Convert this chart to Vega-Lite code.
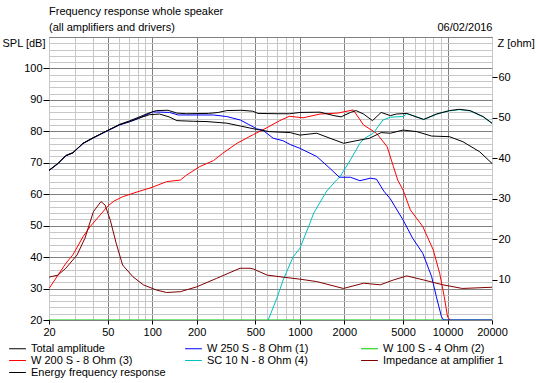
{
"$schema": "https://vega.github.io/schema/vega-lite/v6.json",
"width": 443,
"height": 283,
"autosize": {"type": "none"},
"padding": {"left": 49, "top": 37, "right": 47, "bottom": 63},
"background": "#ffffff",
"title": {"text": "Frequency response whole speaker", "subtitle": "(all amplifiers and drivers)", "anchor": "start", "frame": "group", "font": "Liberation Sans", "fontSize": 11, "fontWeight": "normal", "color": "#000000", "subtitleFont": "Liberation Sans", "subtitleFontSize": 11, "subtitleColor": "#000000", "offset": -12, "subtitlePadding": 5},
"datasets": {
"total": [
{"freq":20,"value":67.6},{"freq":23,"value":69.8},{"freq":26,"value":72.3},{"freq":29,"value":73.2},{"freq":34,"value":76.2},{"freq":40,"value":78.0},{"freq":50,"value":80.3},{"freq":60,"value":82.2},{"freq":70,"value":83.3},{"freq":80,"value":84.4},{"freq":96,"value":85.9},{"freq":107,"value":86.6},{"freq":128,"value":86.7},{"freq":147,"value":85.8},{"freq":170,"value":85.6},{"freq":240,"value":85.7},{"freq":280,"value":86.0},{"freq":320,"value":86.6},{"freq":400,"value":86.7},{"freq":480,"value":86.4},{"freq":520,"value":85.7},{"freq":700,"value":85.6},{"freq":850,"value":85.6},{"freq":1000,"value":86.0},{"freq":1370,"value":86.1},{"freq":1700,"value":85.0},{"freq":1900,"value":84.6},{"freq":2200,"value":86.0},{"freq":2400,"value":86.6},{"freq":2700,"value":85.5},{"freq":3100,"value":83.4},{"freq":3550,"value":86.0},{"freq":4100,"value":85.0},{"freq":4500,"value":85.5},{"freq":5300,"value":85.7},{"freq":6200,"value":84.5},{"freq":6900,"value":83.8},{"freq":8400,"value":85.5},{"freq":10300,"value":86.6},{"freq":12000,"value":87.0},{"freq":14200,"value":86.6},{"freq":17400,"value":84.7},{"freq":20000,"value":82.6}
],
"energy": [
{"freq":20,"value":67.6},{"freq":23,"value":69.8},{"freq":26,"value":72.3},{"freq":29,"value":73.2},{"freq":34,"value":76.2},{"freq":40,"value":78.0},{"freq":50,"value":80.3},{"freq":60,"value":82.1},{"freq":70,"value":83.1},{"freq":80,"value":84.1},{"freq":96,"value":85.3},{"freq":112,"value":85.5},{"freq":130,"value":84.6},{"freq":147,"value":83.4},{"freq":190,"value":83.2},{"freq":235,"value":83.1},{"freq":320,"value":82.6},{"freq":395,"value":81.7},{"freq":510,"value":80.6},{"freq":625,"value":79.9},{"freq":860,"value":79.6},{"freq":1000,"value":78.8},{"freq":1300,"value":79.4},{"freq":1600,"value":77.8},{"freq":1980,"value":76.2},{"freq":2400,"value":77.0},{"freq":2960,"value":77.8},{"freq":3550,"value":79.6},{"freq":4100,"value":79.4},{"freq":5000,"value":80.4},{"freq":6200,"value":79.9},{"freq":7800,"value":78.5},{"freq":10300,"value":78.3},{"freq":12700,"value":76.7},{"freq":16500,"value":73.5},{"freq":20000,"value":69.8}
],
"w250": [
{"freq":20,"value":67.5},{"freq":23,"value":69.7},{"freq":26,"value":72.2},{"freq":29,"value":73.1},{"freq":34,"value":76.1},{"freq":40,"value":77.9},{"freq":50,"value":80.2},{"freq":60,"value":82.0},{"freq":70,"value":83.0},{"freq":80,"value":84.0},{"freq":101,"value":86.2},{"freq":131,"value":86.0},{"freq":150,"value":85.2},{"freq":200,"value":85.2},{"freq":260,"value":85.2},{"freq":320,"value":84.7},{"freq":395,"value":83.6},{"freq":450,"value":82.2},{"freq":510,"value":80.8},{"freq":560,"value":80.4},{"freq":660,"value":77.8},{"freq":770,"value":77.0},{"freq":860,"value":75.8},{"freq":1000,"value":74.6},{"freq":1300,"value":72.0},{"freq":1600,"value":68.2},{"freq":1850,"value":65.4},{"freq":2200,"value":65.4},{"freq":2550,"value":64.3},{"freq":3000,"value":65.1},{"freq":3300,"value":64.8},{"freq":3700,"value":61.0},{"freq":4100,"value":58.5},{"freq":5000,"value":51.8},{"freq":5800,"value":46.0},{"freq":6800,"value":41.2},{"freq":7800,"value":33.8},{"freq":8400,"value":27.4},{"freq":9100,"value":21.0},{"freq":9400,"value":20.0},{"freq":20000,"value":20.0}
],
"w100": [
{"freq":20,"value":20.0},{"freq":20000,"value":20.0}
],
"w200": [
{"freq":20,"value":30.0},{"freq":26,"value":38.0},{"freq":29,"value":40.7},{"freq":34,"value":46.5},{"freq":38,"value":49.7},{"freq":50,"value":56.2},{"freq":55,"value":57.8},{"freq":63,"value":59.2},{"freq":80,"value":60.8},{"freq":100,"value":62.2},{"freq":125,"value":64.0},{"freq":155,"value":64.5},{"freq":171,"value":66.1},{"freq":210,"value":68.8},{"freq":260,"value":70.7},{"freq":300,"value":73.0},{"freq":375,"value":76.2},{"freq":485,"value":79.0},{"freq":590,"value":81.0},{"freq":730,"value":83.4},{"freq":850,"value":84.8},{"freq":1050,"value":84.3},{"freq":1370,"value":85.5},{"freq":1800,"value":85.8},{"freq":2300,"value":86.8},{"freq":2700,"value":82.0},{"freq":3300,"value":79.4},{"freq":3900,"value":75.1},{"freq":4300,"value":68.8},{"freq":4600,"value":64.5},{"freq":5000,"value":61.3},{"freq":5600,"value":55.0},{"freq":6800,"value":49.7},{"freq":8000,"value":42.3},{"freq":8850,"value":34.8},{"freq":9500,"value":27.4},{"freq":10000,"value":21.0},{"freq":10400,"value":20.0}
],
"sc10": [
{"freq":610,"value":20.0},{"freq":700,"value":27.0},{"freq":770,"value":32.7},{"freq":900,"value":40.1},{"freq":1000,"value":42.8},{"freq":1170,"value":50.8},{"freq":1240,"value":54.0},{"freq":1520,"value":61.0},{"freq":1770,"value":64.5},{"freq":1870,"value":65.6},{"freq":2200,"value":70.9},{"freq":2550,"value":76.2},{"freq":2750,"value":77.8},{"freq":3140,"value":79.4},{"freq":3650,"value":83.6},{"freq":4100,"value":84.5},{"freq":5000,"value":84.7},{"freq":5300,"value":85.6},{"freq":6200,"value":84.6},{"freq":6900,"value":83.7},{"freq":8400,"value":85.4},{"freq":9300,"value":86.0},{"freq":10300,"value":86.5},{"freq":12000,"value":86.9},{"freq":14200,"value":86.5},{"freq":17400,"value":84.6},{"freq":20000,"value":82.5}
],
"imp": [
{"freq":20,"value":10.6},{"freq":23,"value":11.1},{"freq":26,"value":12.8},{"freq":31,"value":16.1},{"freq":35,"value":20.2},{"freq":40,"value":26.8},{"freq":45,"value":29.3},{"freq":48,"value":28.4},{"freq":52,"value":24.7},{"freq":57,"value":19.0},{"freq":63,"value":13.6},{"freq":74,"value":10.7},{"freq":87,"value":8.7},{"freq":107,"value":7.4},{"freq":125,"value":6.8},{"freq":155,"value":7.0},{"freq":200,"value":8.2},{"freq":273,"value":10.3},{"freq":393,"value":12.8},{"freq":460,"value":12.8},{"freq":485,"value":12.6},{"freq":600,"value":11.1},{"freq":770,"value":10.6},{"freq":1000,"value":10.1},{"freq":1300,"value":9.5},{"freq":1970,"value":7.8},{"freq":2700,"value":9.1},{"freq":3500,"value":8.7},{"freq":4300,"value":9.9},{"freq":5300,"value":10.9},{"freq":6900,"value":9.9},{"freq":9300,"value":8.7},{"freq":12600,"value":7.8},{"freq":20000,"value":8.1}
]
},
"encoding": {
"x": {"field": "freq", "type": "quantitative", "scale": {"type": "log", "domain": [20, 20000], "nice": false},
"axis": {"values": [20,30,40,50,60,70,80,90,100,200,300,400,500,600,700,800,900,1000,2000,3000,4000,5000,6000,7000,8000,9000,10000,20000],
"grid": true,
"gridColor": {"condition": {"test": "indexof([50,100,200,500,1000,2000,5000,10000], datum.value) >= 0", "value": "#808080"}, "value": "#c8c8c8"},
"labelExpr": "indexof([20,50,100,200,500,1000,2000,5000,10000,20000], datum.value) >= 0 ? format(datum.value, 'd') : ''",
"tickColor": {"condition": {"test": "indexof([20,50,100,200,500,1000,2000,5000,10000,20000], datum.value) >= 0", "value": "#000000"}, "value": "transparent"},
"tickSize": 4, "labelPadding": 2, "labelFlush": false, "labelOverlap": false,
"title": "06/02/2016", "titleX": 443, "titleY": -293, "titleAlign": "right", "titleBaseline": "middle", "titleAnchor": null}}
},
"layer": [
{
"encoding": {
"y": {"field": "value", "type": "quantitative", "scale": {"domain": [20, 110], "nice": false, "zero": false},
"axis": {"values": [20,22,24,26,28,30,32,34,36,38,40,42,44,46,48,50,52,54,56,58,60,62,64,66,68,70,72,74,76,78,80,82,84,86,88,90,92,94,96,98,100,102,104,106,108,110],
"grid": true,
"gridColor": {"condition": {"test": "datum.value % 10 === 0", "value": "#808080"}, "value": "#c8c8c8"},
"labelExpr": "datum.value % 10 === 0 && datum.value < 110 ? format(datum.value, 'd') : ''",
"tickColor": {"condition": {"test": "datum.value % 10 === 0 && datum.value < 110", "value": "#000000"}, "value": "transparent"},
"tickSize": 6, "labelPadding": 1, "labelOverlap": false, "labelFlush": false,
"title": "SPL [dB]", "titleAngle": 0, "titleX": -4, "titleY": 6, "titleAlign": "right", "titleBaseline": "middle"}}
},
"layer": [
{"data": {"name": "w100"}, "mark": {"type": "line", "strokeWidth": 1, "clip": true}, "encoding": {"color": {"datum": "W 100 S - 4 Ohm (2)", "scale": {"domain": ["Total amplitude","W 250 S - 8 Ohm  (1)","W 100 S - 4 Ohm (2)","W 200 S - 8 Ohm (3)","SC 10 N - 8 Ohm (4)","Impedance at amplifier 1","Energy frequency response"], "range": ["#000000","#0000ff","#00cc00","#ff0000","#00c0c0","#800000","#000000"]}}}},
{"data": {"name": "w200"}, "mark": {"type": "line", "strokeWidth": 1, "clip": true}, "encoding": {"color": {"datum": "W 200 S - 8 Ohm (3)", "scale": {"domain": ["Total amplitude","W 250 S - 8 Ohm  (1)","W 100 S - 4 Ohm (2)","W 200 S - 8 Ohm (3)","SC 10 N - 8 Ohm (4)","Impedance at amplifier 1","Energy frequency response"], "range": ["#000000","#0000ff","#00cc00","#ff0000","#00c0c0","#800000","#000000"]}}}},
{"data": {"name": "sc10"}, "mark": {"type": "line", "strokeWidth": 1, "clip": true}, "encoding": {"color": {"datum": "SC 10 N - 8 Ohm (4)", "scale": {"domain": ["Total amplitude","W 250 S - 8 Ohm  (1)","W 100 S - 4 Ohm (2)","W 200 S - 8 Ohm (3)","SC 10 N - 8 Ohm (4)","Impedance at amplifier 1","Energy frequency response"], "range": ["#000000","#0000ff","#00cc00","#ff0000","#00c0c0","#800000","#000000"]}}}},
{"data": {"name": "w250"}, "mark": {"type": "line", "strokeWidth": 1, "clip": true}, "encoding": {"color": {"datum": "W 250 S - 8 Ohm  (1)", "scale": {"domain": ["Total amplitude","W 250 S - 8 Ohm  (1)","W 100 S - 4 Ohm (2)","W 200 S - 8 Ohm (3)","SC 10 N - 8 Ohm (4)","Impedance at amplifier 1","Energy frequency response"], "range": ["#000000","#0000ff","#00cc00","#ff0000","#00c0c0","#800000","#000000"]}}}},
{"data": {"name": "energy"}, "mark": {"type": "line", "strokeWidth": 1, "clip": true}, "encoding": {"color": {"datum": "Energy frequency response", "scale": {"domain": ["Total amplitude","W 250 S - 8 Ohm  (1)","W 100 S - 4 Ohm (2)","W 200 S - 8 Ohm (3)","SC 10 N - 8 Ohm (4)","Impedance at amplifier 1","Energy frequency response"], "range": ["#000000","#0000ff","#00cc00","#ff0000","#00c0c0","#800000","#000000"]}}}},
{"data": {"name": "total"}, "mark": {"type": "line", "strokeWidth": 1, "clip": true}, "encoding": {"color": {"datum": "Total amplitude", "scale": {"domain": ["Total amplitude","W 250 S - 8 Ohm  (1)","W 100 S - 4 Ohm (2)","W 200 S - 8 Ohm (3)","SC 10 N - 8 Ohm (4)","Impedance at amplifier 1","Energy frequency response"], "range": ["#000000","#0000ff","#00cc00","#ff0000","#00c0c0","#800000","#000000"]}}}}
]
},
{"data": {"name": "imp"}, "mark": {"type": "line", "strokeWidth": 1, "clip": true},
"encoding": {
"y": {"field": "value", "type": "quantitative", "scale": {"domain": [0, 70], "nice": false},
"axis": {"orient": "right", "values": [10,20,30,40,50,60], "grid": false, "format": "d", "tickSize": 5, "tickColor": "#000000", "labelPadding": 1,
"title": "Z [ohm]", "titleAngle": 0, "titleX": 5, "titleY": 6, "titleAlign": "left", "titleBaseline": "middle"}},
"color": {"datum": "Impedance at amplifier 1", "scale": {"domain": ["Total amplitude","W 250 S - 8 Ohm  (1)","W 100 S - 4 Ohm (2)","W 200 S - 8 Ohm (3)","SC 10 N - 8 Ohm (4)","Impedance at amplifier 1","Energy frequency response"], "range": ["#000000","#0000ff","#00cc00","#ff0000","#00c0c0","#800000","#000000"]}}}}
],
"resolve": {"scale": {"y": "independent"}},
"config": {
"font": "Liberation Sans",
"view": {"stroke": "#808080"},
"axis": {"domain": false, "labelFont": "Liberation Sans", "labelFontSize": 11, "labelColor": "#000000", "titleFont": "Liberation Sans", "titleFontSize": 11, "titleFontWeight": "normal", "titleColor": "#000000", "gridWidth": 1},
"legend": {"orient": "none", "direction": "horizontal", "legendX": -38, "legendY": 305, "columns": 3, "gridAlign": "all", "columnPadding": 17, "rowPadding": 0, "symbolType": "M-1.4,0H1.4", "symbolSize": 144, "symbolStrokeWidth": 1, "labelFont": "Liberation Sans", "labelFontSize": 11, "labelColor": "#000000", "labelOffset": 7, "padding": 0, "title": null, "labelLimit": 300}
}
}
